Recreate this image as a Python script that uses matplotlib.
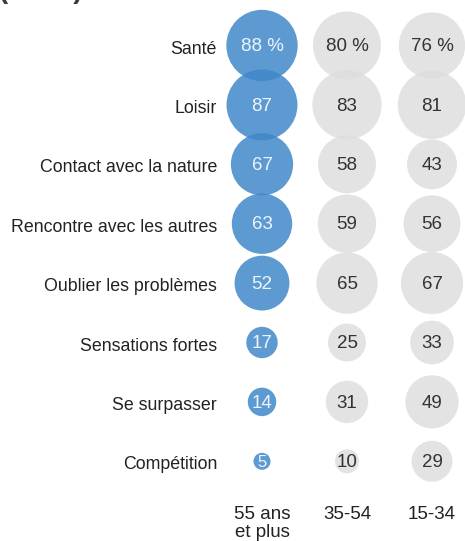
import numpy as np
import matplotlib
matplotlib.use("Agg")
import matplotlib.pyplot as plt

plt.rcParams['font.family'] = ['Liberation Sans', 'DejaVu Sans']

categories = ["Santé", "Loisir", "Contact avec la nature", "Rencontre avec les autres",
              "Oublier les problèmes", "Sensations fortes", "Se surpasser", "Compétition"]
groups = ["55 ans\net plus", "35-54", "15-34"]
v55 = [88, 87, 67, 63, 52, 17, 14, 5]
v35 = [80, 83, 58, 59, 65, 25, 31, 10]
v15 = [76, 81, 43, 56, 67, 33, 49, 29]
series = [v55, v35, v15]

W, H, DPI = 465, 541, 100
fig = plt.figure(figsize=(W / DPI, H / DPI), dpi=DPI)
ax = fig.add_axes([0, 0, 1, 1])
ax.set_axis_off()

# pixel layout -> data coordinates (columns 0..2, rows 0..7)
col_px0, col_step = 262, 85
row_px0, row_step = 45.5, 59.4
ax.set_xlim((0 - col_px0) / col_step, (W - col_px0) / col_step)
ax.set_ylim((H - row_px0) / row_step, (0 - row_px0) / row_step)

face = ['#4088CA', '#DDDDDD', '#DDDDDD']
alphas = [0.85, 0.8, 0.8]
tcol = ['#EEF4FB', '#333333', '#333333']
k = 30.0  # marker area (pt^2) per percentage point

rows = np.arange(len(categories))
for j, vals in enumerate(series):
    ax.scatter(np.full(len(vals), j), rows, s=np.array(vals) * k,
               color=face[j], alpha=alphas[j], linewidths=0, zorder=2)
    for i, v in enumerate(vals):
        lab = f"{v} %" if i == 0 else f"{v}"
        fs = 13.5 if v >= 10 else 12
        ax.text(j, i + 0.02, lab, ha='center', va='center', fontsize=fs,
                color=tcol[j], zorder=3)

lab_x = (217 - col_px0) / col_step
for i, c in enumerate(categories):
    ax.text(lab_x, i + 0.06, c, ha='right', va='center', fontsize=12.8, color='#222222')

gy = (506 - row_px0) / row_step
for j, g in enumerate(groups):
    ax.text(j, gy, g, ha='center', va='top', fontsize=13.5, color='#222222',
            linespacing=1.05)

# cut-off title fragment at the top edge
ax.text((-1 - col_px0) / col_step, (-2 - row_px0) / row_step, "(en %)", ha='left',
        va='baseline', fontsize=20, fontweight='bold', color='#3a3a3a')

fig.savefig("out.png", dpi=DPI)
